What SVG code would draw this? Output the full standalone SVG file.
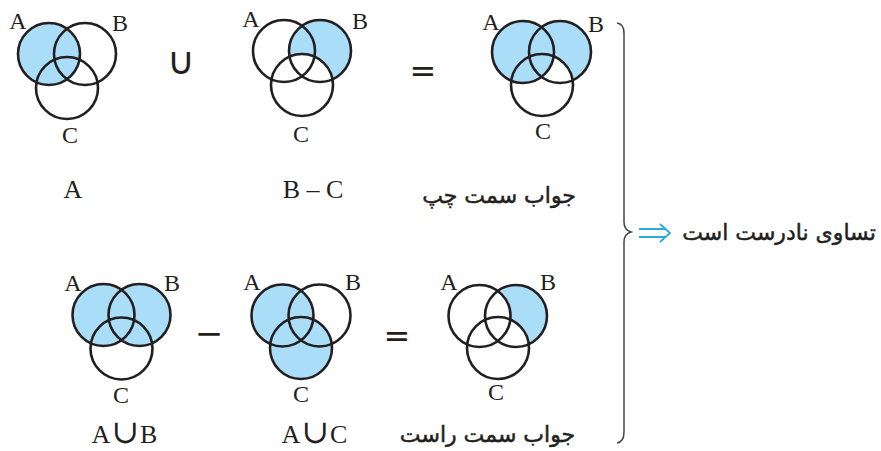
<svg xmlns="http://www.w3.org/2000/svg" width="881" height="451" viewBox="0 0 881 451">
<style>
.o{fill:none;stroke:#231f20;stroke-width:2.6}
.f{fill:#aadef8}
.w{fill:#fff}
.lb{font-family:"Liberation Serif","DejaVu Serif",serif;font-size:24px;fill:#231f20;text-anchor:middle}
.ex{font-family:"Liberation Serif","DejaVu Serif",serif;font-size:26px;fill:#231f20;text-anchor:middle}
.cup{font-family:"Liberation Serif","DejaVu Serif",serif}
.op{font-family:"DejaVu Sans",sans-serif;fill:#231f20;text-anchor:middle}
.fa{font-family:"DejaVu Sans",sans-serif;font-size:22px;fill:#231f20;stroke:#231f20;stroke-width:0.5;text-anchor:middle}
</style>
<rect width="881" height="451" fill="#fff"/>

<g id="venn-A">
  <circle class="f" cx="49" cy="54" r="31"/>
  <circle class="o" cx="49" cy="54" r="31"/>
  <circle class="o" cx="85" cy="54" r="31"/>
  <circle class="o" cx="67" cy="88" r="31"/>
  <text class="lb" x="18" y="29">A</text>
  <text class="lb" x="120" y="31">B</text>
  <text class="lb" x="70" y="143">C</text>
</g>
<g id="op-union"><text class="op" x="181" y="74" font-size="38">∪</text></g>

<g id="venn-BminusC">
  <circle class="f" cx="320" cy="51" r="31"/>
  <circle class="w" cx="302" cy="85" r="31"/>
  <circle class="o" cx="284" cy="51" r="31"/>
  <circle class="o" cx="320" cy="51" r="31"/>
  <circle class="o" cx="302" cy="85" r="31"/>
  <text class="lb" x="251" y="27">A</text>
  <text class="lb" x="360" y="29">B</text>
  <text class="lb" x="301" y="142">C</text>
</g>
<g id="op-eq1"><text class="op" x="423" y="82" font-size="32">=</text></g>

<g id="venn-left">
  <circle class="f" cx="560" cy="52" r="31"/>
  <circle class="w" cx="542" cy="85" r="31"/>
  <circle class="f" cx="523" cy="52" r="31"/>
  <circle class="o" cx="523" cy="52" r="31"/>
  <circle class="o" cx="560" cy="52" r="31"/>
  <circle class="o" cx="542" cy="85" r="31"/>
  <text class="lb" x="491" y="30">A</text>
  <text class="lb" x="596" y="32">B</text>
  <text class="lb" x="543" y="139">C</text>
</g>

<g id="captions-top">
  <text class="ex" x="73" y="198" font-size="25">A</text>
  <text class="ex" x="313" y="198" font-size="25">B – C</text>
  <text class="fa" x="499" y="203">جواب سمت چپ</text>
</g>

<g id="venn-AuB">
  <circle class="f" cx="103.5" cy="315" r="31"/>
  <circle class="f" cx="139.5" cy="315" r="31"/>
  <circle class="o" cx="103.5" cy="315" r="31"/>
  <circle class="o" cx="139.5" cy="315" r="31"/>
  <circle class="o" cx="121.5" cy="348.5" r="31"/>
  <text class="lb" x="73" y="291">A</text>
  <text class="lb" x="172" y="291">B</text>
  <text class="lb" x="121" y="403">C</text>
</g>
<g id="op-minus"><text class="op" x="209" y="345" font-size="34">−</text></g>

<g id="venn-AuC">
  <circle class="f" cx="282.5" cy="315.5" r="31"/>
  <circle class="f" cx="301" cy="348" r="31"/>
  <circle class="o" cx="282.5" cy="315.5" r="31"/>
  <circle class="o" cx="319.5" cy="315.5" r="31"/>
  <circle class="o" cx="301" cy="348" r="31"/>
  <text class="lb" x="252" y="290">A</text>
  <text class="lb" x="353" y="290">B</text>
  <text class="lb" x="301" y="402">C</text>
</g>
<g id="op-eq2"><text class="op" x="397" y="347" font-size="32">=</text></g>

<g id="venn-right">
  <circle class="f" cx="516" cy="316" r="31"/>
  <circle class="w" cx="479.5" cy="316" r="31"/>
  <circle class="w" cx="498" cy="348" r="31"/>
  <circle class="o" cx="479.5" cy="316" r="31"/>
  <circle class="o" cx="516" cy="316" r="31"/>
  <circle class="o" cx="498" cy="348" r="31"/>
  <text class="lb" x="449" y="290">A</text>
  <text class="lb" x="548" y="290">B</text>
  <text class="lb" x="496" y="400">C</text>
</g>

<g id="captions-bottom">
  <text class="ex" x="125" y="443" font-size="27" letter-spacing="1">A<tspan class="cup" font-size="33">∪</tspan>B</text>
  <text class="ex" x="315" y="443" font-size="27" letter-spacing="1">A<tspan class="cup" font-size="33">∪</tspan>C</text>
  <text class="fa" x="487.5" y="442">جواب سمت راست</text>
</g>

<g id="connectors">
  <path d="M617,23 Q624,24 624,33 V222 Q624,230 631,232 Q624,234 624,242 V432 Q624,442 617,443" fill="none" stroke="#444" stroke-width="1.5"/>
  <path d="M639,229 H666 M639,237 H666 M660,224 L670,233 L660,242" fill="none" stroke="#29abe2" stroke-width="1.8"/>
</g>
<g id="conclusion">
  <text class="fa" x="779" y="240" font-size="23">تساوی نادرست است</text>
</g>
</svg>
